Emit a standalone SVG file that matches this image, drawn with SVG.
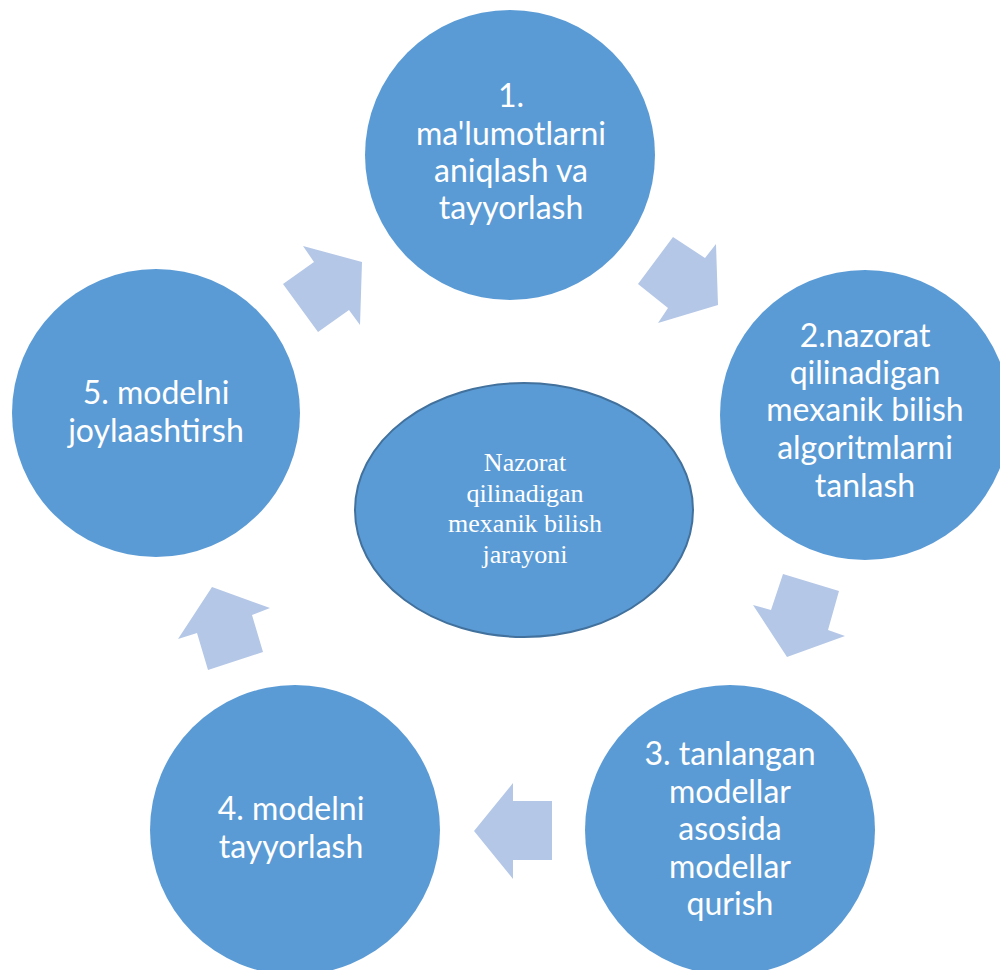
<svg xmlns="http://www.w3.org/2000/svg" width="1000" height="970" viewBox="0 0 1000 970">
<style>
.c{fill:#5B9BD5;}
.t{fill:#FFFFFF;font-family:Lato,"Open Sans",sans-serif;font-size:32px;text-anchor:middle;}
.e{fill:#5B9BD5;stroke:#41719C;stroke-width:2;}
.s{fill:#FFFFFF;font-family:"Liberation Serif","Times New Roman",serif;font-size:26px;text-anchor:middle;}
.a{fill:#B4C7E7;}
</style>
<rect width="1000" height="970" fill="#FFFFFF"/>
<g id="connectors">
<polygon class="a" points="283,284 314,262 303,246 362,262 360,325 349,310 318,332"/>
<polygon class="a" points="638,284 673,237 705,258 716,244 718,305 658,323 668,308"/>
<polygon class="a" points="783,574 839,591 828,630 845,636 787,657 753,605 771,610"/>
<polygon class="a" points="474,831 513,783 513,801 552,801 552,860 513,860 513,879"/>
<polygon class="a" points="212,587 270,608 252,615 263,652 208,670 197,633 178,639"/>
</g>
<g id="node1">
<circle class="c" cx="510" cy="155" r="145"/>
<text class="t"><tspan x="511" y="107">1.</tspan><tspan x="511" y="145">ma'lumotlarni</tspan><tspan x="511" y="182">aniqlash va</tspan><tspan x="511" y="219">tayyorlash</tspan></text>
</g>
<g id="node2">
<circle class="c" cx="865" cy="415" r="145"/>
<text class="t"><tspan x="865" y="347">2.nazorat</tspan><tspan x="865" y="384">qilinadigan</tspan><tspan x="865" y="421">mexanik bilish</tspan><tspan x="865" y="459">algoritmlarni</tspan><tspan x="865" y="497">tanlash</tspan></text>
</g>
<g id="node3">
<circle class="c" cx="730" cy="830" r="145"/>
<text class="t"><tspan x="730" y="765">3. tanlangan</tspan><tspan x="730" y="803">modellar</tspan><tspan x="730" y="840">asosida</tspan><tspan x="730" y="878">modellar</tspan><tspan x="730" y="915">qurish</tspan></text>
</g>
<g id="node4">
<circle class="c" cx="295" cy="830" r="145"/>
<text class="t"><tspan x="291" y="820">4. modelni</tspan><tspan x="291" y="858">tayyorlash</tspan></text>
</g>
<g id="node5">
<circle class="c" cx="156" cy="413" r="144"/>
<text class="t"><tspan x="156" y="404">5. modelni</tspan><tspan x="156" y="442">joylaashtirsh</tspan></text>
</g>
<g id="center">
<ellipse class="e" cx="524" cy="510" rx="169" ry="127"/>
<text class="s"><tspan x="525" y="471">Nazorat</tspan><tspan x="525" y="502">qilinadigan</tspan><tspan x="525" y="532">mexanik bilish</tspan><tspan x="525" y="563">jarayoni</tspan></text>
</g>
</svg>
